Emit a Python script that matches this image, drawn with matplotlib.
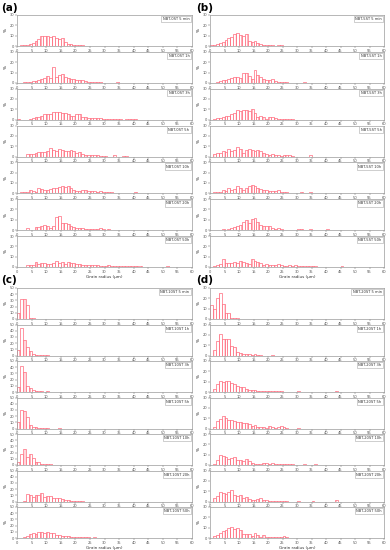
import numpy as np
import matplotlib
matplotlib.use("Agg")
import matplotlib.pyplot as plt

plt.rcParams['font.family'] = ['DejaVu Sans']
plt.rcParams['hatch.linewidth'] = 0.35

times = ["5 min", "1h", "3h", "5h", "10h", "20h", "50h"]
samples = ["NBT-0ST", "NBT-5ST", "NBT-10ST", "NBT-20ST"]
panel_letters = ["(a)", "(b)", "(c)", "(d)"]
ymax = [30, 30, 50, 30]

# Percent per 1-um radius bin, bins starting at 0 um
a_vals = [
    [0,0.5,0.5,1,1.5,3,5,7,9.5,10,10,9,10,8,7,8,4,2,1.5,0.5,1,1,0.5],
    [0,0,1,1,1,1.5,2,3,4,5,7,5,15,6,8,9,6,5,4,4,3,3,2.5,2,1,0.5,0.5,1,0.5,0,0,0,0,0,0.5],
    [0.5,0,0,0,1,2,3,3,4,5,5,5,7,7,7,6,6,5,4,4,5,5,3,3,2,2,2,2,1.5,1,1,1,1,0.5,0.5,0.5,0,0.5,0.5,0.5,0.5],
    [0,0,0,2,2,2.5,3,4,4,4,5,8,6,5,7,6,5,5,6,5,3,4,2,1,1,1,1,1,0.5,0.5,0.5,0,0,1,0,0,0.5,0.5],
    [0,1,1,1,3,2,1,5,4,3,3,4,5,5,6,7,6,7,5,3,2,2,3,3,2,2,2,1,2,1,1,1,1,0.5,0.5,0.5,0.5,0,0,0,1],
    [0,0,0,2,0,0,3,3,4,5,4,2,4,13,14,7,7,6,4,3,2,2,2,1.5,1.5,1,1,1.5,2,1,0.5,1,0.5],
    [0,0,0,2,2,2,5,3,4,4,3,3,4,6,4,5,3,5,4,4,3,3,2,2,1.5,1.5,1.5,1.5,1,1,1,1.5,1,1,1,1,1,0.5,0.5,0.5,0.5,0.5,0.5,0,0,0,0,0,0,0,0,0.5],
]
b_vals = [
    [0.5,1,2,3,4,6,8,9,12,13,11,10,12,5,4,5,3,2,1,1,0.5,0.5,0,0.5,0.5],
    [0,0,1,2,3,3,4,5,6,6,5,10,10,7,4,12,8,6,4,3,3,4,2,1,1,1,0.5,0,0,0,0,0,1],
    [0,1,1.5,2,3,4,4,5,6,9,8,9,9,8,10,6,3,4,3,1,3,3,1.5,1,1,0.5,0.5,0.5,0.5],
    [0,2,3,3,5,4,7,5,6,9,7,3,6,7,6,5,6,5,3,2,1.5,2,1,1,0.5,1,1,1,0.5,0,0,0,0,0,1],
    [0,1,1,1,3,2,5,3,4,7,5,3,5,7,8,7,5,4,3,3,2,2,2,3,1.5,1,1,0.5,0.5,0,0,1,0.5,0,1],
    [0,0,0,0,1,0.5,1,2,3,4,5,8,10,7,11,12,8,5,4,4,4,2,1.5,2,1,0.5,0,0,0,0,1,1,0.5,0,1,0,0,0,0,0,1],
    [0,1,2,3,8,4,4,4,5,4,6,5,4,3,8,6,5,4,2,3,2,2,2,3,1.5,1,1,2,1,2,1,0.5,0.5,1,0.5,1,0.5,0,0,0,0,0,0,0,0,1],
]
c_vals = [
    [9,33,33,22,2,1,0.5],
    [9,45,25,13,7,3,1.5,1.5,1,0.5,0.5],
    [8,42,33,10,6,3,2,1,1,0.5,1],
    [10,30,28,18,6,3,2,1,1,0.5,0.5,0,0,0,0.5],
    [5,17,26,13,17,11,5,5,2,1,1,1,0.5,0.5],
    [0,0,0.5,12,11,8,11,11,13,8,9,9,6,5,5,4,3,2,1,1,0.5,0.5,1],
    [0,0,2,4,6,8,7,9,9,8,9,8,8,5,5,4,4,4,2,2,1,2,1,1,1,0.5,1,0.5,0.5,0.5,0,0,0,0,0,0.5],
]
d_vals = [
    [14,10,20,25,15,6,6,1,1,0.5],
    [0,5,14,21,16,16,16,9,8,3,2,1,1,1,0.5,1,0.5,0.5,0,0,0,0.5],
    [0,3,8,11,10,11,11,9,8,6,5,5,3,2,2,2,1,1,1,1,0.5,0.5,0.5,0.5,0.5,0,0,0,0,0,0.5,0,0,0,0,0,0,0,0,0,0,0,0,0.5],
    [0,1,7,9,12,10,8,8,7,6,6,5,5,4,2,3,1,1,1,0.5,2,1,0.5,1,2,1,0.5,0,0,0,0.5],
    [0,1,5,10,9,8,6,7,8,5,5,4,6,4,2,1,1,1,1.5,1.5,1,2,1,0.5,1,0.5,0.5,0.5,0.5,0,0,0,0.5,0,0,0,0.5],
    [0,3,5,9,8,7,9,11,6,5,6,3,4,2,1.5,1,2,3,1,1,0.5,0.5,0.5,0.5,0.5,0.5,0.5,0,0,0,0.5,0,0,0,0,0.5,0,0,0,0,0,0,0,1],
    [0,2,3,5,7,8,10,11,9,10,8,4,4,4,2,5,3,1,3,0.5,0.5,0.5,0.5,1,0.5,1.5,0.5],
]
all_vals = [a_vals, b_vals, c_vals, d_vals]

W, H = 390, 550
fig = plt.figure(figsize=(W/100, H/100), dpi=100)

col_left = [17, 210, 17, 210]
col_width = [175, 174, 175, 174]
block_top = [15, 15, 288, 288]
block_bot = [267, 267, 538, 538]
ax_h = 31

edge = '#ff5a6e'
frame = '#9a9a9a'

for p in range(4):
    period = (block_bot[p] - block_top[p] - ax_h) / 6.0
    for i in range(7):
        top = block_top[p] + i * period
        rect = [col_left[p] / W, 1 - (top + ax_h) / H, col_width[p] / W, ax_h / H]
        ax = fig.add_axes(rect)
        vals = np.array(all_vals[p][i], dtype=float)
        edges = np.arange(len(vals))
        ax.bar(edges, vals, width=1.0, align='edge', facecolor='white',
               edgecolor=edge, linewidth=0.45, hatch='|||')
        ax.set_xlim(0, 60)
        ax.set_ylim(0, ymax[p])
        ax.set_xticks(np.arange(0, 61, 5))
        ax.set_yticks(np.arange(0, ymax[p] + 1, 10))
        ax.tick_params(labelsize=2.6, length=1.2, width=0.3, pad=0.8, colors='#555555')
        for s in ax.spines.values():
            s.set_linewidth(0.5)
            s.set_color(frame)
        ax.set_ylabel('%', fontsize=3, labelpad=1)
        ax.text(0.985, 0.93, f"{samples[p]} {times[i]}", transform=ax.transAxes,
                ha='right', va='top', fontsize=2.6, color='#333333',
                bbox=dict(boxstyle='square,pad=0.35', facecolor='white',
                          edgecolor='#aaaaaa', linewidth=0.4))
        if i == 6:
            ax.set_xlabel('Grain radius (µm)', fontsize=3, labelpad=1, color='#333333')

label_pos = [(1, 8), (196, 8), (1, 280), (196, 280)]
for p in range(4):
    fig.text(label_pos[p][0] / W, 1 - label_pos[p][1] / H, panel_letters[p],
             fontsize=7.5, fontweight='bold', ha='left', va='center')

fig.savefig('out.png', dpi=100)
